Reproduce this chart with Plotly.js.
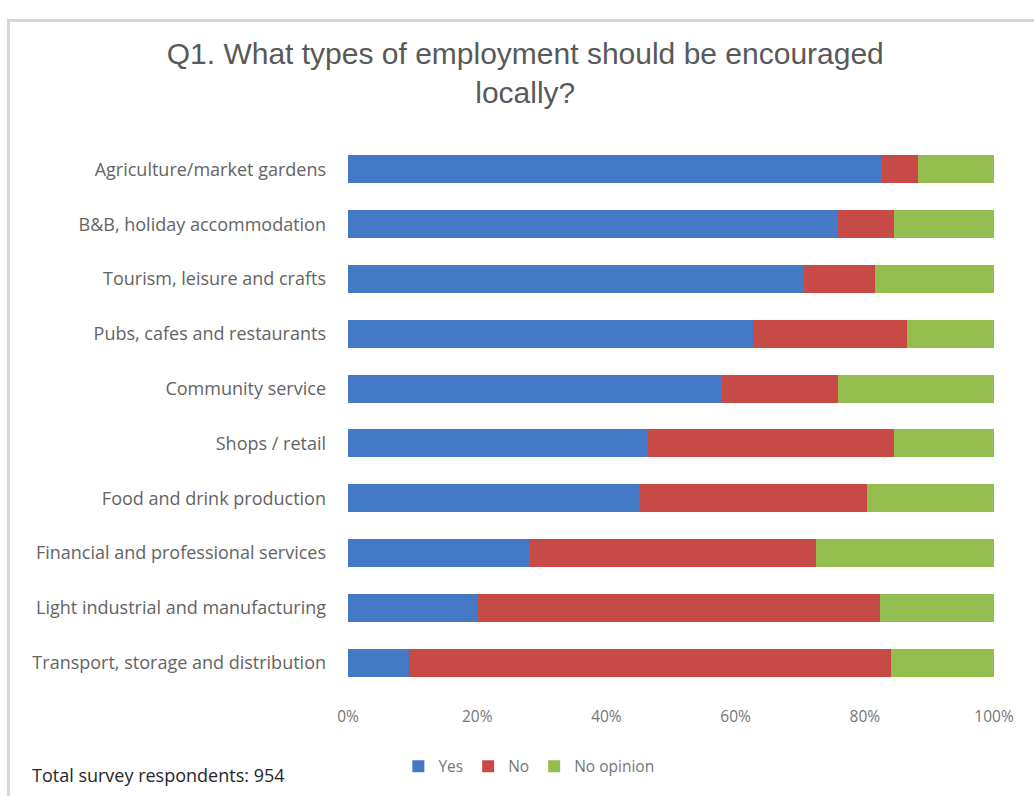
<!DOCTYPE html>
<html>
<head>
<meta charset="utf-8">
<script src="https://cdn.plot.ly/plotly-3.0.1.min.js"></script>
<style>
  html, body { margin: 0; padding: 0; background: #fff; }
  #wrap { position: relative; width: 1034px; height: 796px; overflow: hidden; }
  #chart { width: 1034px; height: 796px; }
  #frame { position: absolute; left: 7px; top: 19px; width: 1040px; height: 800px;
           border-left: 3px solid #d6d6d6; border-top: 3px solid #d6d6d6; pointer-events: none; }
</style>
</head>
<body>
<div id="wrap">
  <div id="chart"></div>
  <div id="frame"></div>
</div>
<script>
const categories = [
  "Agriculture/market gardens",
  "B&B, holiday accommodation",
  "Tourism, leisure and crafts",
  "Pubs, cafes and restaurants",
  "Community service",
  "Shops / retail",
  "Food and drink production",
  "Financial and professional services",
  "Light industrial and manufacturing",
  "Transport, storage and distribution"
];
const yesValues = [82.6, 75.8, 70.6, 62.7, 57.9, 46.5, 45.0, 28.2, 19.9, 9.4];
const noValues = [5.6, 8.7, 11.0, 23.9, 17.9, 38.0, 35.3, 44.3, 62.5, 74.6];
const noOpinionValues = [11.8, 15.5, 18.4, 13.4, 24.2, 15.5, 19.7, 27.5, 17.6, 16.0];
const seriesNames = ["Yes", "No", "No opinion"];
const tickValues = [0, 20, 40, 60, 80, 100];
const tickLabels = ["0%", "20%", "40%", "60%", "80%", "100%"];
const titleText = "Q1. What types of employment should be encouraged<br>locally?";
const noteText = "Total survey respondents: 954";

const colors = ["#4479c6", "#c84a47", "#93bd4f"];
const series = [yesValues, noValues, noOpinionValues];

const traces = series.map((vals, i) => ({
  type: "bar",
  orientation: "h",
  name: seriesNames[i],
  y: categories,
  x: vals,
  marker: { color: colors[i], line: { width: 0 } },
  hoverinfo: "x+y+name"
}));

const layout = {
  width: 1034,
  height: 796,
  barmode: "stack",
  bargap: 0.49,
  paper_bgcolor: "#ffffff",
  plot_bgcolor: "#ffffff",
  margin: { l: 348, r: 40, t: 142, b: 106, pad: 0 },
  title: {
    text: titleText,
    font: { family: "Liberation Sans, Arial, sans-serif", size: 30, color: "#595959", lineposition: "none" },
    x: 0.508,
    xanchor: "center",
    xref: "container",
    y: 0.92,
    yref: "container",
    yanchor: "middle"
  },
  xaxis: {
    range: [0, 100],
    tickmode: "array",
    tickvals: tickValues,
    ticktext: tickLabels,
    showgrid: false,
    zeroline: false,
    showline: false,
    ticks: "",
    ticklabelstandoff: 15,
    tickfont: { family: "Open Sans, sans-serif", size: 15.5, color: "#767676" },
    fixedrange: true
  },
  yaxis: {
    categoryorder: "array",
    categoryarray: categories,
    autorange: "reversed",
    showgrid: false,
    zeroline: false,
    showline: false,
    ticks: "",
    ticklabelstandoff: 21,
    tickfont: { family: "Open Sans, sans-serif", size: 18, color: "#646464" },
    fixedrange: true
  },
  legend: {
    orientation: "h",
    x: 0.28,
    xanchor: "center",
    y: -0.14,
    yanchor: "middle",
    font: { family: "Open Sans, sans-serif", size: 15.5, color: "#767676" },
    itemwidth: 30,
    traceorder: "normal"
  },
  annotations: [{
    text: noteText,
    xref: "paper",
    yref: "paper",
    x: -0.493,
    xanchor: "left",
    y: -0.155,
    yanchor: "middle",
    showarrow: false,
    font: { family: "Open Sans, sans-serif", size: 18, color: "#262626" }
  }],
  showlegend: true
};

Plotly.newPlot("chart", traces, layout, { displayModeBar: false });
</script>
</body>
</html>
